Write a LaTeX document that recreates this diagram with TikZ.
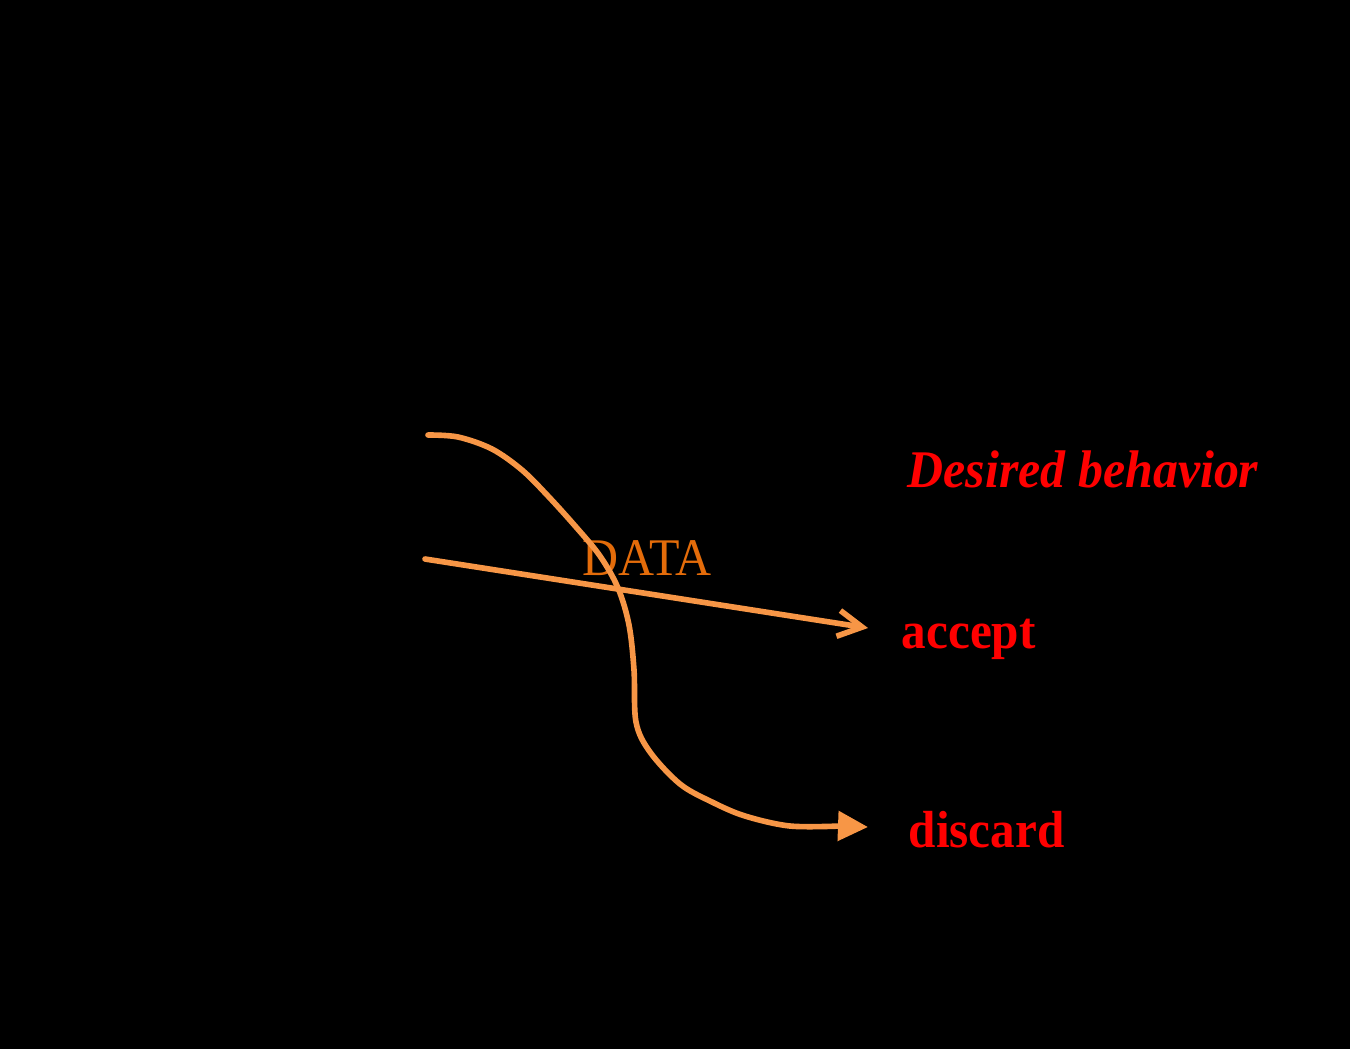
\documentclass[tikz,border=0pt]{standalone}
\usepackage{fontspec}
\setmainfont{Liberation Serif}
\usetikzlibrary{arrows.meta}
\definecolor{flow}{RGB}{247,150,70}
\definecolor{datacol}{RGB}{228,108,10}
\definecolor{lbl}{RGB}{255,0,0}
\tikzset{
  flowline/.style={draw=flow, line width=1.6pt, line cap=round, line join=round},
  redlabel/.style={text=lbl, anchor=base west, inner sep=0pt, font=\fontsize{14}{16}\selectfont\bfseries},
  datalabel/.style={text=datacol, anchor=base west, inner sep=0pt, font=\fontsize{14.2}{16}\selectfont}
}
\newcommand{\vstretch}[1]{\scalebox{1}[1.06]{#1}}
\begin{document}
\begin{tikzpicture}[x=0.1mm, y=-0.1mm]
  \fill[black] (0,0) rectangle (1350,1049);
  \useasboundingbox (0,0) rectangle (1350,1049);

  % labels
  \node[redlabel, font=\fontsize{14.2}{16}\selectfont\bfseries\itshape] (desired) at (907,487) {\vstretch{Desired behavior}};
  \node[redlabel] (accept) at (901,648) {\vstretch{accept}};
  \node[redlabel] (discard) at (908,847) {\vstretch{discard}};
  \node[datalabel] (data) at (582,575) {\vstretch{DATA}};

  % connector ends
  \coordinate (s1) at (425,559);
  \coordinate (e1) at (868,628);
  \coordinate (s2) at (428,435);
  \coordinate (e2) at (868,827);

  % straight path: accept
  \draw[flowline, -{Straight Barb[length=2.4mm, width=2.6mm, line width=1.6pt]}] (s1) -- (e1);

  % curved path: discard
  \draw[flowline, -{Triangle[length=3mm, width=2.9mm]}]
    plot[smooth, tension=0.55] coordinates {(428,435) (458,437) (492,449) (522,470) (548,496) (576,527) (600,556) (618,588) (629,625) (634,670) (636,722) (650,752) (680,784) (712,802) (745,816) (790,826) (840,826)}
    -- (e2);
\end{tikzpicture}
\end{document}
